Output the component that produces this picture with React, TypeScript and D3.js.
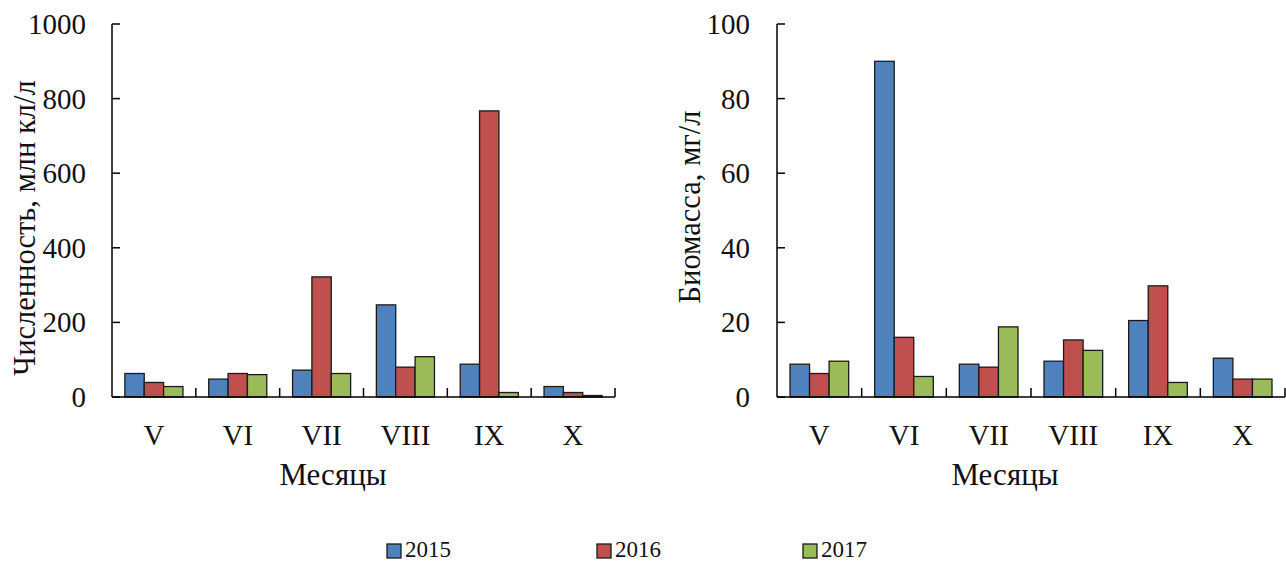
import React from "react";
import * as d3 from "d3";

const months = ["V", "VI", "VII", "VIII", "IX", "X"];
const years = ["2015", "2016", "2017"];
const colors = ["#4F81BD", "#C0504D", "#9BBB59"];

const abundance2015 = [63, 48, 72, 247, 88, 28];
const abundance2016 = [39, 63, 322, 80, 767, 12];
const abundance2017 = [28, 60, 63, 108, 12, 4];

const biomass2015 = [8.8, 90, 8.8, 9.6, 20.5, 10.4];
const biomass2016 = [6.3, 16, 8, 15.3, 29.8, 4.8];
const biomass2017 = [9.6, 5.5, 18.8, 12.5, 3.9, 4.8];

const abundanceTicks = [0, 200, 400, 600, 800, 1000];
const biomassTicks = [0, 20, 40, 60, 80, 100];

const FONT = "Liberation Serif, Tinos, Times New Roman, DejaVu Serif, serif";

type PanelProps = {
  x0: number;
  x1: number;
  series: number[][];
  max: number;
  ticks: number[];
  yTitle: string;
  yTitleX: number;
  yTitleY: number;
  tickLabelX: number;
  xTitleX: number;
};

function Panel({ x0, x1, series, max, ticks, yTitle, yTitleX, yTitleY, tickLabelX, xTitleX }: PanelProps) {
  const top = 24;
  const bottom = 397;
  const y = d3.scaleLinear().domain([0, max]).range([bottom, top]);
  const xb = d3.scaleBand<string>().domain(months).range([x0, x1]).padding(0);
  const xs = d3
    .scaleBand<string>()
    .domain(years)
    .range([0, xb.bandwidth()])
    .paddingInner(0)
    .paddingOuter(0.665);
  const bounds = months.map((m) => (xb(m) as number) + xb.bandwidth());
  return (
    <g>
      {months.map((m, i) =>
        years.map((yr, j) => {
          const v = series[j][i];
          const bx = (xb(m) as number) + (xs(yr) as number);
          return (
            <rect
              key={m + yr}
              x={bx}
              y={y(v)}
              width={xs.bandwidth()}
              height={bottom - y(v)}
              fill={colors[j]}
              stroke="#1a1a1a"
              strokeWidth={1.3}
            />
          );
        })
      )}
      <line x1={x0} x2={x0} y1={top} y2={bottom} stroke="#000" strokeWidth={1.5} />
      <line x1={x0} x2={x1} y1={bottom} y2={bottom} stroke="#000" strokeWidth={1.5} />
      {ticks.map((t) => (
        <g key={t}>
          <line x1={x0} x2={x0 + 8} y1={y(t)} y2={y(t)} stroke="#000" strokeWidth={1.5} />
          <text
            x={tickLabelX}
            y={y(t)}
            textAnchor="end"
            dominantBaseline="central"
            style={{ fontFamily: FONT }}
            fontSize={29}
            fill="#111"
          >
            {t}
          </text>
        </g>
      ))}
      {bounds.map((b, i) => (
        <line key={i} x1={b} x2={b} y1={bottom} y2={bottom - 9} stroke="#000" strokeWidth={1.5} />
      ))}
      {months.map((m) => (
        <text
          key={m}
          x={(xb(m) as number) + xb.bandwidth() / 2}
          y={445}
          textAnchor="middle"
          style={{ fontFamily: FONT }}
          fontSize={29}
          fill="#111"
        >
          {m}
        </text>
      ))}
      <text x={xTitleX} y={485} textAnchor="middle" style={{ fontFamily: FONT }} fontSize={31} fill="#111">
        Месяцы
      </text>
      <text
        transform={`translate(${yTitleX},${yTitleY}) rotate(-90)`}
        textAnchor="middle"
        dominantBaseline="central"
        style={{ fontFamily: FONT }}
        fontSize={30.5}
        fill="#111"
      >
        {yTitle}
      </text>
    </g>
  );
}

export default function App() {
  const legendItems = [
    { x: 387, label: years[0], c: colors[0] },
    { x: 597, label: years[1], c: colors[1] },
    { x: 803, label: years[2], c: colors[2] },
  ];
  return (
    <svg
      width={1286}
      height={562}
      style={{ position: "absolute", left: 0, top: 0, background: "#fff" }}
    >
      <rect width={1286} height={562} fill="#fff" />
      <Panel
        x0={112}
        x1={615}
        series={[abundance2015, abundance2016, abundance2017]}
        max={1000}
        ticks={abundanceTicks}
        yTitle="Численность, млн кл/л"
        yTitleX={25}
        yTitleY={228}
        tickLabelX={86}
        xTitleX={333}
      />
      <Panel
        x0={777}
        x1={1285}
        series={[biomass2015, biomass2016, biomass2017]}
        max={100}
        ticks={biomassTicks}
        yTitle="Биомасса, мг/л"
        yTitleX={690}
        yTitleY={207}
        tickLabelX={750}
        xTitleX={1005}
      />
      {legendItems.map((it) => (
        <g key={it.label}>
          <rect x={it.x} y={544} width={14} height={14} fill={it.c} stroke="#1a1a1a" strokeWidth={1.3} />
          <text x={it.x + 18} y={557} style={{ fontFamily: FONT }} fontSize={23} fill="#111">
            {it.label}
          </text>
        </g>
      ))}
    </svg>
  );
}
